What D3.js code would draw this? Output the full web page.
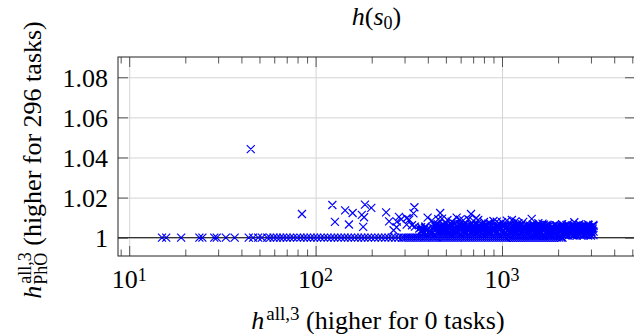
<!DOCTYPE html>
<html><head><meta charset="utf-8">
<script src="https://cdn.jsdelivr.net/npm/d3@7"></script>
</head><body style="margin:0;background:#fff">
<svg id="c" width="634" height="334" style="display:block" font-family="Liberation Serif"></svg>
<script>
// ---------- data ----------
const xTickValues = [10, 100, 1000];
const xTickExponents = ["1", "2", "3"];
const xMinorTicks = [9, 20, 30, 40, 50, 60, 70, 80, 90, 200, 300, 400, 500, 600, 700, 800, 900, 2000, 3000, 4000, 5000];
const yTickValues = [1, 1.02, 1.04, 1.06, 1.08];
const yTickLabels = ["1", "1.02", "1.04", "1.06", "1.08"];

// tasks where both heuristics are equal (ratio = 1)
const equalX = [15, 15.8, 19, 23.8, 24.7, 28.6, 29.5, 33, 36.8, 43.8, 46.2, 49.2, 51.5, 55, 57, 59.5, 62, 64.5, 67, 70, 73, 76, 79.5, 83, 86.5, 90, 94, 98, 102, 106.5, 111, 116, 121, 126, 131.5, 137, 143, 149, 155, 162, 169, 176, 183, 191, 199, 208, 217, 226, 236, 246, 256, 267, 278, 290, 297, 305, 312, 320, 328, 336, 345, 353, 362, 371, 381, 390, 400, 410, 421, 431, 442, 453, 465, 477, 489, 501, 514, 527, 540, 554, 568, 582, 597, 612, 628, 643, 660, 676, 693, 711, 729, 747, 766, 785, 805, 825, 846, 868, 890, 912, 935, 959, 983, 1008, 1033, 1059, 1086, 1114, 1142, 1171, 1200, 1231, 1262, 1294, 1327, 1360, 1395, 1430, 1466, 1503, 1541, 1580, 1620, 1661, 1703, 1746, 1790, 1835, 1882, 1930, 1978, 2028, 2080, 2110];

// scattered tasks with a higher ratio
const outliers = [[44.9,1.0442],[84.5,1.0118],[123,1.0163],[127,1.0079],[144,1.0136],[151,1.0066],[158,1.0123],[177,1.0114],[180,1.0054],[182,1.0102],[184,1.0165],[199,1.0149],[239,1.0126],[248,1.0081],[262,1.0037],[272,1.0052],[273,1.0080],[280,1.0104],[288,1.0092],[308,1.0065],[308,1.0097],[318,1.0090],[329,1.0062],[335,1.0121],[339,1.0152],[341,1.0055],[368,1.0052],[376,1.0036],[388,1.0056],[399,1.0100],[420,1.0085],[428,1.0040],[447,1.0062],[455,1.0092],[466,1.0123],[477,1.0095],[484,1.0048],[510,1.0088],[537,1.0080],[553,1.0040],[571,1.0100],[595,1.0090],[620,1.0086],[641,1.0052],[660,1.0092],[682,1.0118],[702,1.0084],[726,1.0097],[731,1.0041],[745,1.0088],[800,1.0078],[862,1.0072],[900,1.0083],[937,1.0080],[1000,1.0077],[1060,1.0085],[1130,1.0088],[1180,1.0081],[1225,1.0072],[1300,1.0079],[1443,1.0094],[1566,1.0072],[1650,1.0070],[1737,1.0064],[1964,1.0060],[2100,1.0068],[2250,1.0066],[2443,1.0077],[2600,1.0067],[2730,1.0060],[2900,1.0066],[3090,1.0064]];

// dense cluster of slightly higher ratios
const clusterTop = [[436,1.0062],[452,1.0068],[468,1.0058],[484,1.0065],[501,1.0071],[519,1.0060],[537,1.0066],[556,1.0070],[576,1.0059],[596,1.0067],[617,1.0063],[639,1.0070],[661,1.0057],[685,1.0066],[709,1.0061],[734,1.0069],[760,1.0058],[786,1.0065],[814,1.0062],[843,1.0070],[873,1.0059],[903,1.0066],[935,1.0063],[968,1.0069],[1002,1.0058],[1037,1.0065],[1073,1.0061],[1111,1.0068],[1150,1.0057],[1190,1.0064],[1232,1.0060],[1276,1.0067],[1320,1.0058],[1366,1.0063],[1414,1.0060],[1464,1.0066],[1516,1.0056],[1569,1.0062],[1624,1.0059],[1681,1.0065],[1740,1.0057],[1800,1.0062],[1864,1.0058],[1929,1.0064],[1996,1.0056],[2066,1.0061],[2139,1.0058],[2214,1.0063],[2292,1.0055],[2372,1.0061],[2455,1.0057],[2541,1.0063],[2630,1.0056],[2722,1.0060],[2818,1.0058],[2916,1.0062],[3020,1.0056],[3100,1.0059]];
const clusterMid = [[360,1.0046],[373,1.0041],[386,1.0049],[400,1.0044],[414,1.0040],[429,1.0048],[444,1.0043],[460,1.0050],[476,1.0042],[493,1.0046],[510,1.0040],[528,1.0049],[547,1.0045],[566,1.0041],[586,1.0050],[607,1.0044],[628,1.0039],[650,1.0047],[673,1.0043],[697,1.0050],[722,1.0041],[747,1.0046],[773,1.0044],[800,1.0049],[829,1.0040],[858,1.0045],[888,1.0048],[919,1.0042],[951,1.0050],[985,1.0044],[1019,1.0039],[1055,1.0047],[1092,1.0043],[1131,1.0049],[1170,1.0041],[1211,1.0046],[1254,1.0044],[1298,1.0050],[1343,1.0040],[1390,1.0045],[1439,1.0048],[1490,1.0042],[1542,1.0046],[1596,1.0039],[1652,1.0049],[1710,1.0044],[1770,1.0041],[1832,1.0047],[1896,1.0043],[1963,1.0050],[2031,1.0042],[2103,1.0046],[2176,1.0040],[2253,1.0048],[2332,1.0044],[2413,1.0049],[2498,1.0041],[2585,1.0045],[2676,1.0047],[2770,1.0042],[2867,1.0046],[2967,1.0043],[3070,1.0045]];
const clusterLow = [[367,1.0031],[380,1.0026],[393,1.0034],[407,1.0029],[421,1.0024],[436,1.0033],[452,1.0028],[468,1.0036],[484,1.0027],[501,1.0031],[519,1.0025],[537,1.0034],[556,1.0030],[576,1.0027],[596,1.0035],[617,1.0029],[639,1.0024],[661,1.0032],[685,1.0028],[709,1.0035],[734,1.0026],[760,1.0031],[786,1.0029],[814,1.0034],[843,1.0025],[873,1.0030],[903,1.0033],[935,1.0027],[968,1.0036],[1002,1.0029],[1037,1.0024],[1073,1.0032],[1111,1.0028],[1150,1.0034],[1190,1.0026],[1232,1.0031],[1276,1.0029],[1320,1.0035],[1366,1.0025],[1414,1.0030],[1464,1.0033],[1516,1.0027],[1569,1.0031],[1624,1.0024],[1681,1.0034],[1740,1.0029],[1800,1.0026],[1864,1.0032],[1929,1.0028],[1996,1.0035],[2066,1.0027],[2139,1.0031],[2214,1.0025],[2292,1.0033],[2372,1.0029],[2455,1.0034],[2541,1.0026],[2630,1.0030],[2722,1.0032],[2818,1.0027],[2916,1.0031],[3020,1.0028],[3100,1.0030]];
const clusterBase = [[1480,1.0013],[1535,1.0011],[1590,1.0016],[1648,1.0012],[1708,1.0010],[1770,1.0014],[1834,1.0011],[1900,1.0017],[1970,1.0012],[2040,1.0010],[2115,1.0015],[2150,1.0019],[2190,1.0011],[2230,1.0016],[2270,1.0010],[2310,1.0020],[2350,1.0016],[2392,1.0011],[2435,1.0012],[2478,1.0019],[2520,1.0010],[2565,1.0015],[2610,1.0014],[2657,1.0020],[2705,1.0011],[2752,1.0016],[2800,1.0015],[2850,1.0019],[2900,1.0011],[2950,1.0016],[3000,1.0010],[3050,1.0018],[3095,1.0013]];
const clusterBandX = [440, 456, 472, 489, 506, 524, 542, 561, 581, 601, 623, 645, 667, 691, 716, 741, 767, 794, 822, 850, 880, 911, 943, 977, 1011, 1046, 1083, 1121, 1160, 1201, 1244, 1287, 1332, 1379, 1428, 1478, 1530, 1584, 1639, 1696, 1756, 1818, 1882, 1948, 2016, 2087, 2160, 2236, 2315, 2396, 2480, 2567, 2657, 2751, 2847, 2947, 3050];
const clusterUpperY = [1.0053,1.0050,1.0056,1.0052,1.0055,1.0051,1.0057,1.0053,1.0050,1.0055,1.0052,1.0056,1.0051,1.0054,1.0050,1.0057,1.0052,1.0055,1.0051,1.0053,1.0056,1.0050,1.0054,1.0052,1.0057,1.0051,1.0055,1.0053,1.0050,1.0056,1.0052,1.0054,1.0051,1.0057,1.0053,1.0050,1.0055,1.0052,1.0056,1.0051,1.0054,1.0050,1.0053,1.0056,1.0052,1.0055,1.0051,1.0054,1.0050,1.0053,1.0056,1.0052,1.0055,1.0051,1.0054,1.0052,1.0053];
const clusterInnerY = [1.0038,1.0035,1.0040,1.0037,1.0034,1.0039,1.0036,1.0041,1.0035,1.0038,1.0034,1.0040,1.0037,1.0035,1.0039,1.0036,1.0041,1.0034,1.0038,1.0035,1.0040,1.0037,1.0034,1.0039,1.0036,1.0041,1.0035,1.0038,1.0034,1.0040,1.0037,1.0035,1.0039,1.0036,1.0041,1.0034,1.0038,1.0035,1.0040,1.0037,1.0034,1.0039,1.0036,1.0041,1.0035,1.0038,1.0034,1.0040,1.0037,1.0035,1.0039,1.0036,1.0038,1.0034,1.0037,1.0035,1.0038];

// ---------- layout ----------
const L = 118, R = 635, T = 57, B = 256;
const FONT = "Liberation Serif";
const svg = d3.select("#c");
const x = d3.scaleLog().domain([8.709, 5170]).range([L, R]);
const y = d3.scaleLinear().domain([0.99087, 1.0901]).range([B, T]);

// grid
const gx = svg.append("g").attr("transform", `translate(0,${B})`)
  .call(d3.axisBottom(x).tickValues(xTickValues).tickSize(-(B - T)).tickFormat(""));
gx.select(".domain").remove();
gx.selectAll("text").remove();
gx.selectAll("line").attr("stroke", "#d4d4d4").attr("stroke-width", 1);
const gy = svg.append("g").attr("transform", `translate(${L},0)`)
  .call(d3.axisLeft(y).tickValues(yTickValues).tickSize(-(R - L)).tickFormat(""));
gy.select(".domain").remove();
gy.selectAll("text").remove();
gy.selectAll("line").attr("stroke", "#d4d4d4").attr("stroke-width", 1);

// ticks (inside)
function ticks(axisFn, vals, size, tr) {
  const g = svg.append("g").attr("transform", tr)
    .call(axisFn.tickValues(vals).tickSizeInner(size).tickSizeOuter(0).tickFormat(""));
  g.select(".domain").remove();
  g.selectAll("text").remove();
  g.selectAll("line").attr("stroke", "#444").attr("stroke-width", 0.9);
}
ticks(d3.axisBottom(x), xTickValues, -10, `translate(0,${B})`);
ticks(d3.axisBottom(x), xMinorTicks, -6.5, `translate(0,${B})`);
ticks(d3.axisTop(x), xTickValues, -10, `translate(0,${T})`);
ticks(d3.axisTop(x), xMinorTicks, -6.5, `translate(0,${T})`);
ticks(d3.axisLeft(y), yTickValues, -10, `translate(${L},0)`);
ticks(d3.axisRight(y), yTickValues, -10, `translate(${R},0)`);

// y = 1 reference line
svg.append("line").attr("x1", L).attr("x2", R).attr("y1", y(1)).attr("y2", y(1))
  .attr("stroke", "#333").attr("stroke-width", 1.3);

// markers
const s = 4;
function crossPath(pts) {
  return pts.map(([a, b]) => {
    const px = x(a), py = y(b);
    return `M${px - s},${py - s}L${px + s},${py + s}M${px - s},${py + s}L${px + s},${py - s}`;
  }).join("");
}
const bandUpper = clusterBandX.map((v, i) => [v, clusterUpperY[i]]);
const bandInner = clusterBandX.map((v, i) => [v, clusterInnerY[i]]);
const allPts = [].concat(
  equalX.map(v => [v, 1]), clusterBase, clusterLow, bandInner, clusterMid, bandUpper, clusterTop, outliers);
svg.append("path").attr("d", crossPath(allPts))
  .attr("fill", "none").attr("stroke", "#0000ff").attr("stroke-width", 1.2);

// box
svg.append("rect").attr("x", L).attr("y", T).attr("width", R - L).attr("height", B - T)
  .attr("fill", "none").attr("stroke", "#222").attr("stroke-width", 1);

function txt(sel) {
  return sel.append("text").attr("font-family", FONT).attr("fill", "#000");
}

// y tick labels
yTickValues.forEach((v, i) => {
  txt(svg).attr("x", 108).attr("y", y(v) + 9.4).attr("text-anchor", "end")
    .attr("font-size", 26).text(yTickLabels[i]);
});

// x tick labels 10^k
xTickValues.forEach((v, i) => {
  const t = txt(svg).attr("y", 287.5).attr("font-size", 26);
  t.append("tspan").text("10");
  t.append("tspan").attr("font-size", 18).attr("dy", -7).text(xTickExponents[i]);
  const w = t.node().getComputedTextLength();
  t.attr("x", x(v) - w / 2);
});

// title h(s0)
{
  const t = txt(svg).attr("y", 25).attr("font-size", 26);
  t.append("tspan").attr("font-style", "italic").text("h");
  t.append("tspan").text("(");
  t.append("tspan").attr("font-style", "italic").text("s");
  t.append("tspan").attr("font-size", 18).attr("dy", 4).text("0");
  t.append("tspan").attr("dy", -4).text(")");
  const w = t.node().getComputedTextLength();
  t.attr("x", (L + R) / 2 - w / 2);
}

// x label
{
  const t = txt(svg).attr("y", 329).attr("font-size", 26);
  t.append("tspan").attr("font-style", "italic").text("h");
  t.append("tspan").attr("font-size", 19).attr("dx", 2).attr("dy", -9).text("all,3");
  t.append("tspan").attr("dy", 9).text(" (higher for 0 tasks)");
  const w = t.node().getComputedTextLength();
  t.attr("x", 377 - w / 2);
}

// y label (rotated)
{
  const g = svg.append("g").attr("transform", "translate(41,160) rotate(-90)");
  const h = txt(g).attr("font-size", 26).attr("font-style", "italic").text("h");
  const hw = h.node().getComputedTextLength();
  const sup = txt(g).attr("font-size", 18).attr("x", hw + 2).attr("y", -10).text("all,3");
  const sub = txt(g).attr("font-size", 18).attr("x", hw + 1).attr("y", 6).text("PhO");
  const sw = Math.max(sup.node().getComputedTextLength(), sub.node().getComputedTextLength());
  const main = txt(g).attr("font-size", 26).attr("x", hw + 2 + sw + 6).text("(higher for 296 tasks)");
  const total = hw + 2 + sw + 6 + main.node().getComputedTextLength();
  g.selectAll("text").attr("transform", `translate(${-total / 2},0)`);
}
</script>
</body></html>
